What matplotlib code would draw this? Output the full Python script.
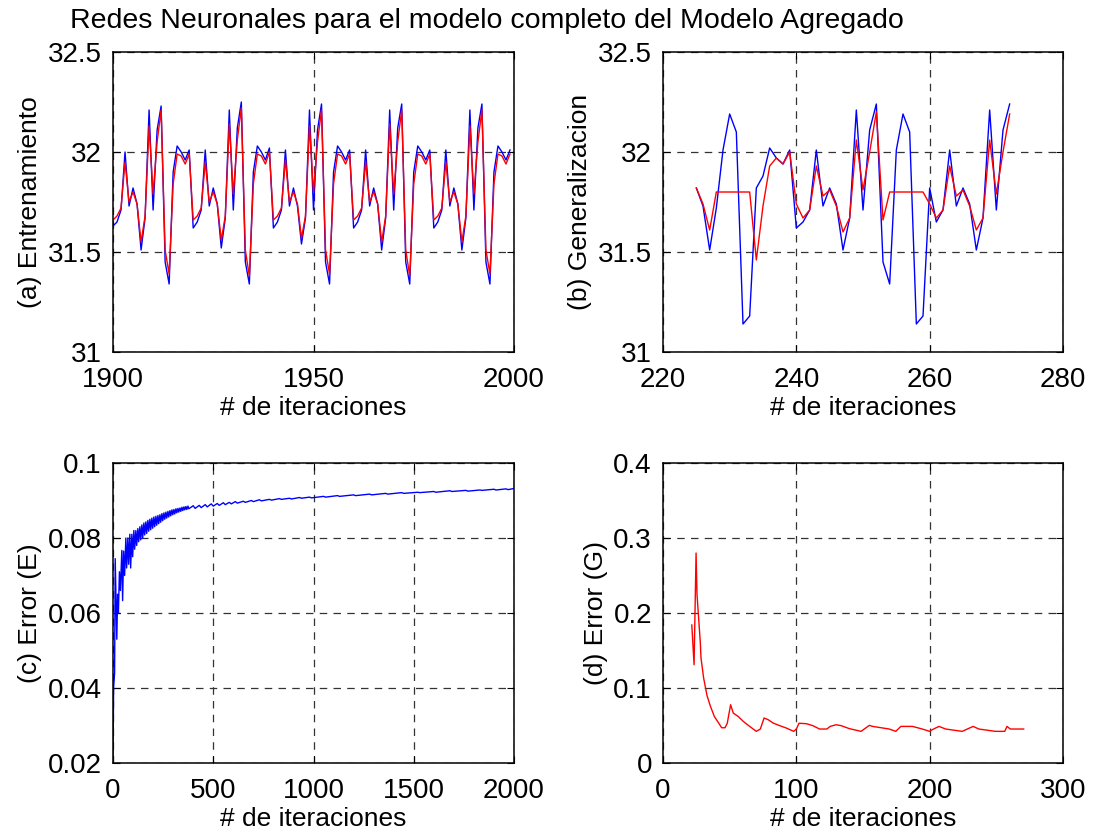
import numpy as np
import matplotlib
matplotlib.use('Agg')
import matplotlib.pyplot as plt

plt.rcParams['font.family'] = ['Liberation Sans', 'DejaVu Sans']

# ---- (a) Entrenamiento: iteraciones 1900..1999
it_a = np.arange(1900, 2000)
real_a = [31.63, 31.65, 31.71, 32.00, 31.73, 31.82, 31.74, 31.51, 31.67, 32.21, 31.71, 32.11, 32.23, 31.45, 31.34, 31.90, 32.03, 32.00, 31.96, 32.01,
          31.62, 31.65, 31.71, 32.01, 31.73, 31.82, 31.74, 31.52, 31.67, 32.21, 31.71, 32.12, 32.25, 31.45, 31.34, 31.90, 32.03, 32.00, 31.96, 32.02,
          31.62, 31.65, 31.71, 32.01, 31.73, 31.82, 31.73, 31.54, 31.67, 32.21, 31.71, 32.11, 32.24, 31.45, 31.34, 31.90, 32.03, 32.00, 31.96, 32.01,
          31.62, 31.65, 31.71, 32.01, 31.73, 31.82, 31.74, 31.51, 31.67, 32.21, 31.71, 32.12, 32.24, 31.45, 31.34, 31.90, 32.03, 32.00, 31.96, 32.01,
          31.62, 31.65, 31.71, 32.01, 31.73, 31.82, 31.74, 31.51, 31.67, 32.21, 31.71, 32.12, 32.24, 31.45, 31.34, 31.90, 32.03, 32.00, 31.96, 32.01]
red_a = [31.66, 31.68, 31.72, 31.95, 31.75, 31.80, 31.74, 31.55, 31.68, 32.13, 31.79, 32.05, 32.21, 31.51, 31.39, 31.84, 31.99, 31.98, 31.94, 31.99,
         31.66, 31.68, 31.72, 31.95, 31.75, 31.80, 31.74, 31.56, 31.68, 32.14, 31.79, 32.06, 32.22, 31.51, 31.38, 31.84, 31.99, 31.98, 31.94, 32.00,
         31.66, 31.68, 31.72, 31.96, 31.75, 31.80, 31.74, 31.57, 31.68, 32.13, 31.80, 32.05, 32.21, 31.51, 31.39, 31.84, 31.99, 31.98, 31.94, 31.99,
         31.66, 31.68, 31.72, 31.95, 31.75, 31.80, 31.74, 31.55, 31.68, 32.14, 31.79, 32.05, 32.21, 31.51, 31.38, 31.84, 31.99, 31.98, 31.94, 31.99,
         31.66, 31.68, 31.72, 31.95, 31.75, 31.80, 31.74, 31.55, 31.68, 32.13, 31.79, 32.05, 32.21, 31.51, 31.39, 31.84, 31.99, 31.98, 31.94, 31.99]

# ---- (b) Generalizacion: iteraciones 225..272
it_b = np.arange(225, 273)
real_b = [31.82, 31.73, 31.51, 31.72, 32.01, 32.19, 32.10, 31.14, 31.18, 31.82,
          31.88, 32.02, 31.97, 31.94, 32.01, 31.62, 31.65, 31.71, 32.01, 31.73,
          31.82, 31.74, 31.51, 31.67, 32.21, 31.71, 32.11, 32.24, 31.45, 31.34,
          32.01, 32.19, 32.10, 31.14, 31.18, 31.82, 31.65, 31.71, 32.01, 31.73,
          31.82, 31.74, 31.51, 31.67, 32.21, 31.71, 32.11, 32.24]
red_b = [31.82, 31.74, 31.61, 31.80, 31.80, 31.80, 31.80, 31.80, 31.80, 31.46,
         31.73, 31.93, 31.97, 31.94, 32.00, 31.74, 31.67, 31.71, 31.93, 31.78,
         31.81, 31.73, 31.60, 31.67, 32.06, 31.81, 32.00, 32.20, 31.66, 31.80,
         31.80, 31.80, 31.80, 31.80, 31.80, 31.74, 31.67, 31.71, 31.93, 31.78,
         31.81, 31.73, 31.61, 31.67, 32.06, 31.79, 32.00, 32.19]

# ---- (c) Error (E) en entrenamiento
it_c = [0, 3, 8, 11, 19, 23, 27, 32, 37, 44, 48, 53, 58, 64, 68, 74, 78, 84, 88, 94,
        98, 104, 108, 114, 118, 124, 128, 134, 138, 144, 148, 154, 158, 164, 168, 174, 178, 184, 188, 194,
        198, 204, 208, 214, 218, 224, 228, 234, 238, 244, 248, 254, 258, 264, 268, 274, 278, 284, 288, 294,
        298, 304, 308, 314, 318, 324, 328, 334, 338, 344, 348, 354, 358, 364, 368, 374, 378, 400, 410, 430,
        440, 460, 470, 490, 500, 520, 530, 550, 560, 580, 590, 610, 620, 650, 660, 690, 700, 730, 740, 780,
        790, 830, 840, 880, 890, 930, 940, 980, 990, 1050, 1060, 1120, 1130, 1200, 1210, 1280, 1290, 1360, 1370, 1440,
        1450, 1520, 1530, 1600, 1610, 1680, 1690, 1760, 1770, 1830, 1840, 1900, 1910, 1960, 1970, 2000]
err_c = [0.0200, 0.0400, 0.0440, 0.0745, 0.0530, 0.0650, 0.0600, 0.0710, 0.0660, 0.0767, 0.0633, 0.0765, 0.0700, 0.0800, 0.0720, 0.0800, 0.0730, 0.0810, 0.0720, 0.0810,
         0.0750, 0.0820, 0.0770, 0.0820, 0.0780, 0.0825, 0.0790, 0.0830, 0.0795, 0.0835, 0.0800, 0.0840, 0.0808, 0.0843, 0.0812, 0.0847, 0.0818, 0.0850, 0.0822, 0.0853,
         0.0826, 0.0856, 0.0830, 0.0858, 0.0834, 0.0860, 0.0838, 0.0862, 0.0842, 0.0865, 0.0846, 0.0867, 0.0850, 0.0869, 0.0853, 0.0871, 0.0856, 0.0873, 0.0859, 0.0875,
         0.0862, 0.0876, 0.0864, 0.0878, 0.0867, 0.0879, 0.0869, 0.0880, 0.0871, 0.0882, 0.0873, 0.0883, 0.0875, 0.0884, 0.0876, 0.0885, 0.0878, 0.0886, 0.0879, 0.0887,
         0.0881, 0.0889, 0.0883, 0.0891, 0.0885, 0.0892, 0.0887, 0.0894, 0.0889, 0.0895, 0.0891, 0.0897, 0.0893, 0.0898, 0.0895, 0.0900, 0.0897, 0.0902, 0.0899, 0.0903,
         0.0901, 0.0905, 0.0903, 0.0906, 0.0904, 0.0908, 0.0906, 0.0909, 0.0907, 0.0911, 0.0909, 0.0913, 0.0911, 0.0915, 0.0913, 0.0917, 0.0915, 0.0919, 0.0917, 0.0921,
         0.0919, 0.0922, 0.0921, 0.0924, 0.0922, 0.0926, 0.0924, 0.0927, 0.0925, 0.0928, 0.0927, 0.0930, 0.0928, 0.0931, 0.0929, 0.0932]

# ---- (d) Error (G) en generalizacion
it_d = [21.6, 23.3, 24.8, 25.5, 28.0, 28.5, 30.5, 33.0, 35.5, 38.5, 41.5, 44.0, 46.5, 48.2, 50.7, 52.7, 56.4, 60.2, 65.0, 70.0,
        73.0, 75.8, 78.8, 82.6, 87.5, 92.5, 98.0, 100.0, 102.0, 107.5, 112.4, 117.4, 122.9, 125.4, 129.8, 133.6, 139.8, 148.5, 154.8, 157.2,
        169.7, 174.6, 178.4, 187.1, 194.5, 200.0, 202.0, 207.0, 212.0, 224.4, 232.6, 236.9, 249.3, 256.3, 258.0, 260.5, 270.5]
err_d = [0.184, 0.131, 0.280, 0.225, 0.160, 0.140, 0.113, 0.090, 0.076, 0.062, 0.054, 0.047, 0.047, 0.053, 0.0777, 0.0666, 0.062, 0.0555, 0.0488, 0.0422,
         0.0453, 0.060, 0.0578, 0.0533, 0.0498, 0.0466, 0.0422, 0.0453, 0.053, 0.0524, 0.0498, 0.0453, 0.0453, 0.0488, 0.0510, 0.0498, 0.0458, 0.0422, 0.0502, 0.0488,
         0.0453, 0.0422, 0.0488, 0.0488, 0.0453, 0.0422, 0.0445, 0.0488, 0.0453, 0.0422, 0.0488, 0.0453, 0.0422, 0.0422, 0.0488, 0.0453, 0.0453]

fig = plt.figure(figsize=(10.94, 8.4), dpi=100)

W, H = 1094.0, 840.0
def box(l, t, r, b):
    return [l / W, 1 - b / H, (r - l) / W, (b - t) / H]

ax1 = fig.add_axes(box(113, 52, 514, 352))
ax2 = fig.add_axes(box(663, 52, 1063, 352))
ax3 = fig.add_axes(box(113, 463, 514, 763))
ax4 = fig.add_axes(box(663, 463, 1063, 763))

ax1.plot(it_a, real_a, color='#0000ff', lw=1.0)
ax1.plot(it_a, red_a, color='#ff0000', lw=1.0)
ax1.set_xlim(1900, 2000)
ax1.set_ylim(31, 32.5)
ax1.set_xticks([1900, 1950, 2000])
ax1.set_yticks([31, 31.5, 32, 32.5])
ax1.set_yticklabels(['31', '31.5', '32', '32.5'])
ax1.set_ylabel('(a) Entrenamiento')

ax2.plot(it_b, real_b, color='#0000ff', lw=1.0)
ax2.plot(it_b, red_b, color='#ff0000', lw=1.0)
ax2.set_xlim(220, 280)
ax2.set_ylim(31, 32.5)
ax2.set_xticks([220, 240, 260, 280])
ax2.set_yticks([31, 31.5, 32, 32.5])
ax2.set_yticklabels(['31', '31.5', '32', '32.5'])
ax2.set_ylabel('(b) Generalizacion')

ax3.plot(it_c, err_c, color='#0000ff', lw=1.0)
ax3.set_xlim(0, 2000)
ax3.set_ylim(0.02, 0.1)
ax3.set_xticks([0, 500, 1000, 1500, 2000])
ax3.set_yticks([0.02, 0.04, 0.06, 0.08, 0.1])
ax3.set_yticklabels(['0.02', '0.04', '0.06', '0.08', '0.1'])
ax3.set_ylabel('(c) Error (E)')

ax4.plot(it_d, err_d, color='#ff0000', lw=1.0)
ax4.set_xlim(0, 300)
ax4.set_ylim(0, 0.4)
ax4.set_xticks([0, 100, 200, 300])
ax4.set_yticks([0, 0.1, 0.2, 0.3, 0.4])
ax4.set_yticklabels(['0', '0.1', '0.2', '0.3', '0.4'])
ax4.set_ylabel('(d) Error (G)')

for ax in [ax1, ax2, ax3, ax4]:
    ax.set_xlabel('# de iteraciones', fontsize=19, labelpad=2)
    ax.yaxis.label.set_fontsize(19)
    ax.yaxis.labelpad = 4
    ax.grid(True, color='#333333', linestyle=(0, (6, 5)), linewidth=0.9)
    ax.tick_params(direction='in', length=5, width=0.8, labelsize=20,
                   top=True, right=True)
    ax.tick_params(axis='y', pad=8)
    ax.tick_params(axis='x', pad=11)
    for s in ax.spines.values():
        s.set_linewidth(1.1)

fig.text(70 / W, 1 - 21 / H, 'Redes Neuronales para el modelo completo del Modelo Agregado',
         fontsize=20.5, ha='left', va='center')

fig.savefig('out.png', dpi=100)
